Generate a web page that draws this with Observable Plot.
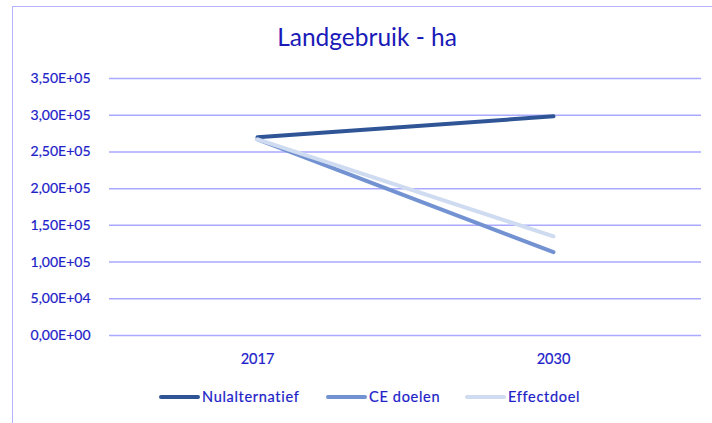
<!DOCTYPE html>
<html>
<head>
<meta charset="utf-8">
<script src="https://cdn.jsdelivr.net/npm/d3@7"></script>
<script src="https://cdn.jsdelivr.net/npm/@observablehq/plot@0.6"></script>
<style>
  html, body { margin: 0; padding: 0; background: #fff; }
  #wrap { position: relative; width: 712px; height: 423px; overflow: hidden; font-family: Lato, sans-serif; color: #2121c8; }
  #frame { position: absolute; left: 12px; top: 6px; width: 760px; height: 460px; border: 1.5px solid #b3b3ff; box-sizing: border-box; }
  #title { position: absolute; left: 22px; width: 690px; top: 21px; text-align: center; font-size: 24.5px; color: #1a1ab8; line-height: 32px; }
  #chart { position: absolute; left: 0; top: 0; }
  .lg { position: absolute; top: 387px; font-size: 14.5px; line-height: 20px; color: #2121c8; letter-spacing: 0.7px; -webkit-text-stroke: 0.2px #2121c8; }
  .sw { position: absolute; top: 395px; height: 4px; width: 41px; border-radius: 2px; }
  #chart text { stroke: #2121c8; stroke-width: 0.2px; }
</style>
</head>
<body>
<div id="wrap">
  <div id="frame"></div>
  <div id="title">Landgebruik - ha</div>
  <div id="chart"></div>
  <div id="legend"></div>
</div>
<script>
const years = ["2017", "2030"];
const seriesNames = ["Nulalternatief", "CE doelen", "Effectdoel"];
const seriesColors = ["#2f5597", "#7292d2", "#cfdbf0"];
const nulalternatief = [270000, 298500];
const ceDoelen = [267000, 113500];
const effectdoel = [267000, 135000];
const yTicks = [0, 50000, 100000, 150000, 200000, 250000, 300000, 350000];

const seriesValues = [nulalternatief, ceDoelen, effectdoel];
const data = [];
seriesNames.forEach((s, i) => years.forEach((y, j) => data.push({series: s, year: y, value: seriesValues[i][j]})));

function fmt(d) {
  const [m, e] = d.toExponential(2).split("e");
  const sign = e[0] === "-" ? "-" : "+";
  const ex = e.replace(/^[+-]/, "").padStart(2, "0");
  return m.replace(".", ",") + "E" + sign + ex;
}

const chart = Plot.plot({
  width: 712,
  height: 380,
  marginLeft: 109,
  marginRight: 11,
  marginTop: 78,
  marginBottom: 45,
  x: {type: "point", domain: years, padding: 0.5},
  y: {domain: [0, 350000]},
  color: {domain: seriesNames, range: seriesColors},
  style: {fontFamily: "Lato, sans-serif", fontSize: "14.5px", color: "#2121c8", background: "transparent", overflow: "visible"},
  marks: [
    Plot.ruleY(yTicks, {stroke: "#a9a9ff", strokeWidth: 1.5}),
    Plot.axisY(yTicks, {tickSize: 0, tickPadding: 19, tickFormat: fmt, fill: "#2121c8", fontSize: 14, label: null}),
    Plot.axisX({tickSize: 0, tickPadding: 18, fill: "#2121c8", fontSize: 14.5, label: null}),
    Plot.line(data, {x: "year", y: "value", z: "series", stroke: "series", strokeWidth: 4, strokeLinecap: "round"})
  ]
});
document.getElementById("chart").appendChild(chart);

const legend = document.getElementById("legend");
const swLeft = [159, 326, 465];
const txtLeft = [202, 369, 508];
seriesNames.forEach((s, i) => {
  const sw = document.createElement("div");
  sw.className = "sw";
  sw.style.left = swLeft[i] + "px";
  sw.style.background = seriesColors[i];
  legend.appendChild(sw);
  const t = document.createElement("div");
  t.className = "lg";
  t.style.left = txtLeft[i] + "px";
  t.textContent = s;
  legend.appendChild(t);
});
</script>
</body>
</html>
